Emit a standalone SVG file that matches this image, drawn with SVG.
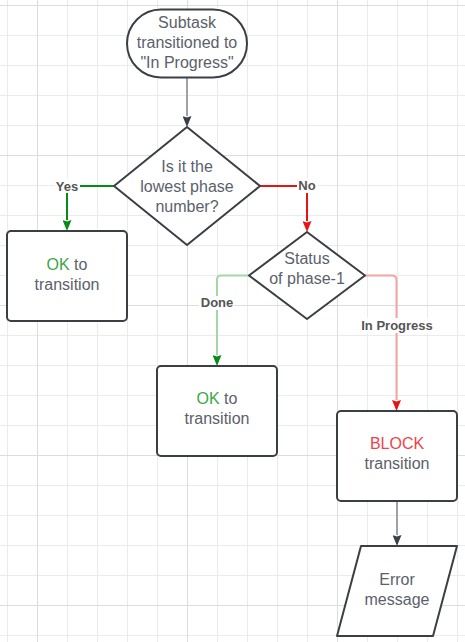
<svg xmlns="http://www.w3.org/2000/svg" width="465" height="642" viewBox="0 0 465 642">
<defs>
<pattern id="minor" width="30" height="30" patternUnits="userSpaceOnUse" x="7" y="5"><path d="M0.5,0 V30 M0,0.5 H30" stroke="#ebebeb" stroke-width="1" fill="none"/></pattern>
<pattern id="major" width="150" height="150" patternUnits="userSpaceOnUse" x="37" y="5"><path d="M0.5,0 V150 M0,0.5 H150" stroke="#dddddd" stroke-width="1" fill="none"/></pattern>
<marker id="ah-gray" viewBox="0 0 11 9" refX="0" refY="4.5" markerWidth="11" markerHeight="9" markerUnits="userSpaceOnUse" orient="auto"><path d="M0,0 L11,4.5 L0,9 L1.5,4.5 z" fill="#3b4047"/></marker>
<marker id="ah-green" viewBox="0 0 11 9" refX="0" refY="4.5" markerWidth="11" markerHeight="9" markerUnits="userSpaceOnUse" orient="auto"><path d="M0,0 L11,4.5 L0,9 L1.5,4.5 z" fill="#078a16"/></marker>
<marker id="ah-red" viewBox="0 0 11 9" refX="0" refY="4.5" markerWidth="11" markerHeight="9" markerUnits="userSpaceOnUse" orient="auto"><path d="M0,0 L11,4.5 L0,9 L1.5,4.5 z" fill="#e81313"/></marker>
</defs>
<style>
.shape{fill:#ffffff;stroke:#3a3f45;stroke-width:2;stroke-linejoin:round}
.t{font-family:"Liberation Sans",Arial,sans-serif;font-size:16px;fill:#5b616b;text-anchor:middle}
.ok{fill:#3ea646}
.block{fill:#f0424a}
.lbl{font-family:"Liberation Sans",Arial,sans-serif;font-size:13px;font-weight:bold;fill:#555555;text-anchor:middle}
.lblbg{fill:#ffffff}
.c{fill:none;stroke-width:2}
</style>
<rect width="465" height="642" fill="#ffffff"/>
<rect width="465" height="642" fill="url(#minor)"/>
<rect width="465" height="642" fill="url(#major)"/>

<g id="connectors">
<path class="c" d="M187,78 V116" stroke="#9ea1a6" marker-end="url(#ah-gray)"/>
<path class="c" d="M114,186 H67 V220" stroke="#078a16" marker-end="url(#ah-green)"/>
<path class="c" d="M260,186 H307 V221" stroke="#e81313" marker-end="url(#ah-red)"/>
<path class="c" d="M249,275.5 H221 Q217,275.5 217,279.5 V355" stroke="#a5d6a8" marker-end="url(#ah-green)"/>
<path class="c" d="M365,275.5 H392 Q396.5,275.5 396.5,280 V400" stroke="#f5a4a6" marker-end="url(#ah-red)"/>
<path class="c" d="M397,501 V535" stroke="#9ea1a6" marker-end="url(#ah-gray)"/>
<g id="label-yes"><rect class="lblbg" x="55" y="178" width="25" height="15"/><text class="lbl" x="67" y="190.5">Yes</text></g>
<g id="label-no"><rect class="lblbg" x="297" y="178" width="20" height="15"/><text class="lbl" x="307" y="189.5">No</text></g>
<g id="label-done"><rect class="lblbg" x="199" y="296" width="36" height="14"/><text class="lbl" x="217" y="307">Done</text></g>
<g id="label-inprogress"><rect class="lblbg" x="360" y="318" width="74" height="15"/><text class="lbl" x="397" y="330">In Progress</text></g>
</g>

<g id="start">
<rect class="shape" x="127" y="9.5" width="120" height="68" rx="34" ry="34"/>
<text class="t" x="187" y="27.5">Subtask</text>
<text class="t" x="187" y="47.5">transitioned to</text>
<text class="t" x="187" y="67.5">"In Progress"</text>
</g>

<g id="decision-lowest">
<polygon class="shape" points="187,127 260,186 187,245 114,186"/>
<text class="t" x="187" y="171.5">Is it the</text>
<text class="t" x="187" y="191.5">lowest phase</text>
<text class="t" x="187" y="211.5">number?</text>
</g>

<g id="ok-1">
<rect class="shape" x="7" y="231" width="120" height="90" rx="4" ry="4"/>
<text class="t" x="67" y="269.7"><tspan class="ok">OK</tspan> to</text>
<text class="t" x="67" y="289.7">transition</text>
</g>

<g id="decision-status">
<polygon class="shape" points="307,232 365,275.5 307,319 249,275.5"/>
<text class="t" x="307" y="264">Status</text>
<text class="t" x="307" y="284">of phase-1</text>
</g>

<g id="ok-2">
<rect class="shape" x="157" y="366" width="120" height="90" rx="4" ry="4"/>
<text class="t" x="217" y="404"><tspan class="ok">OK</tspan> to</text>
<text class="t" x="217" y="424">transition</text>
</g>

<g id="block">
<rect class="shape" x="337" y="411" width="120" height="90" rx="4" ry="4"/>
<text class="t" x="397" y="449"><tspan class="block">BLOCK</tspan></text>
<text class="t" x="397" y="469">transition</text>
</g>

<g id="error">
<polygon class="shape" points="361,546 457,546 433,636 337,636"/>
<text class="t" x="397" y="584.7">Error</text>
<text class="t" x="397" y="604.7">message</text>
</g>
</svg>
